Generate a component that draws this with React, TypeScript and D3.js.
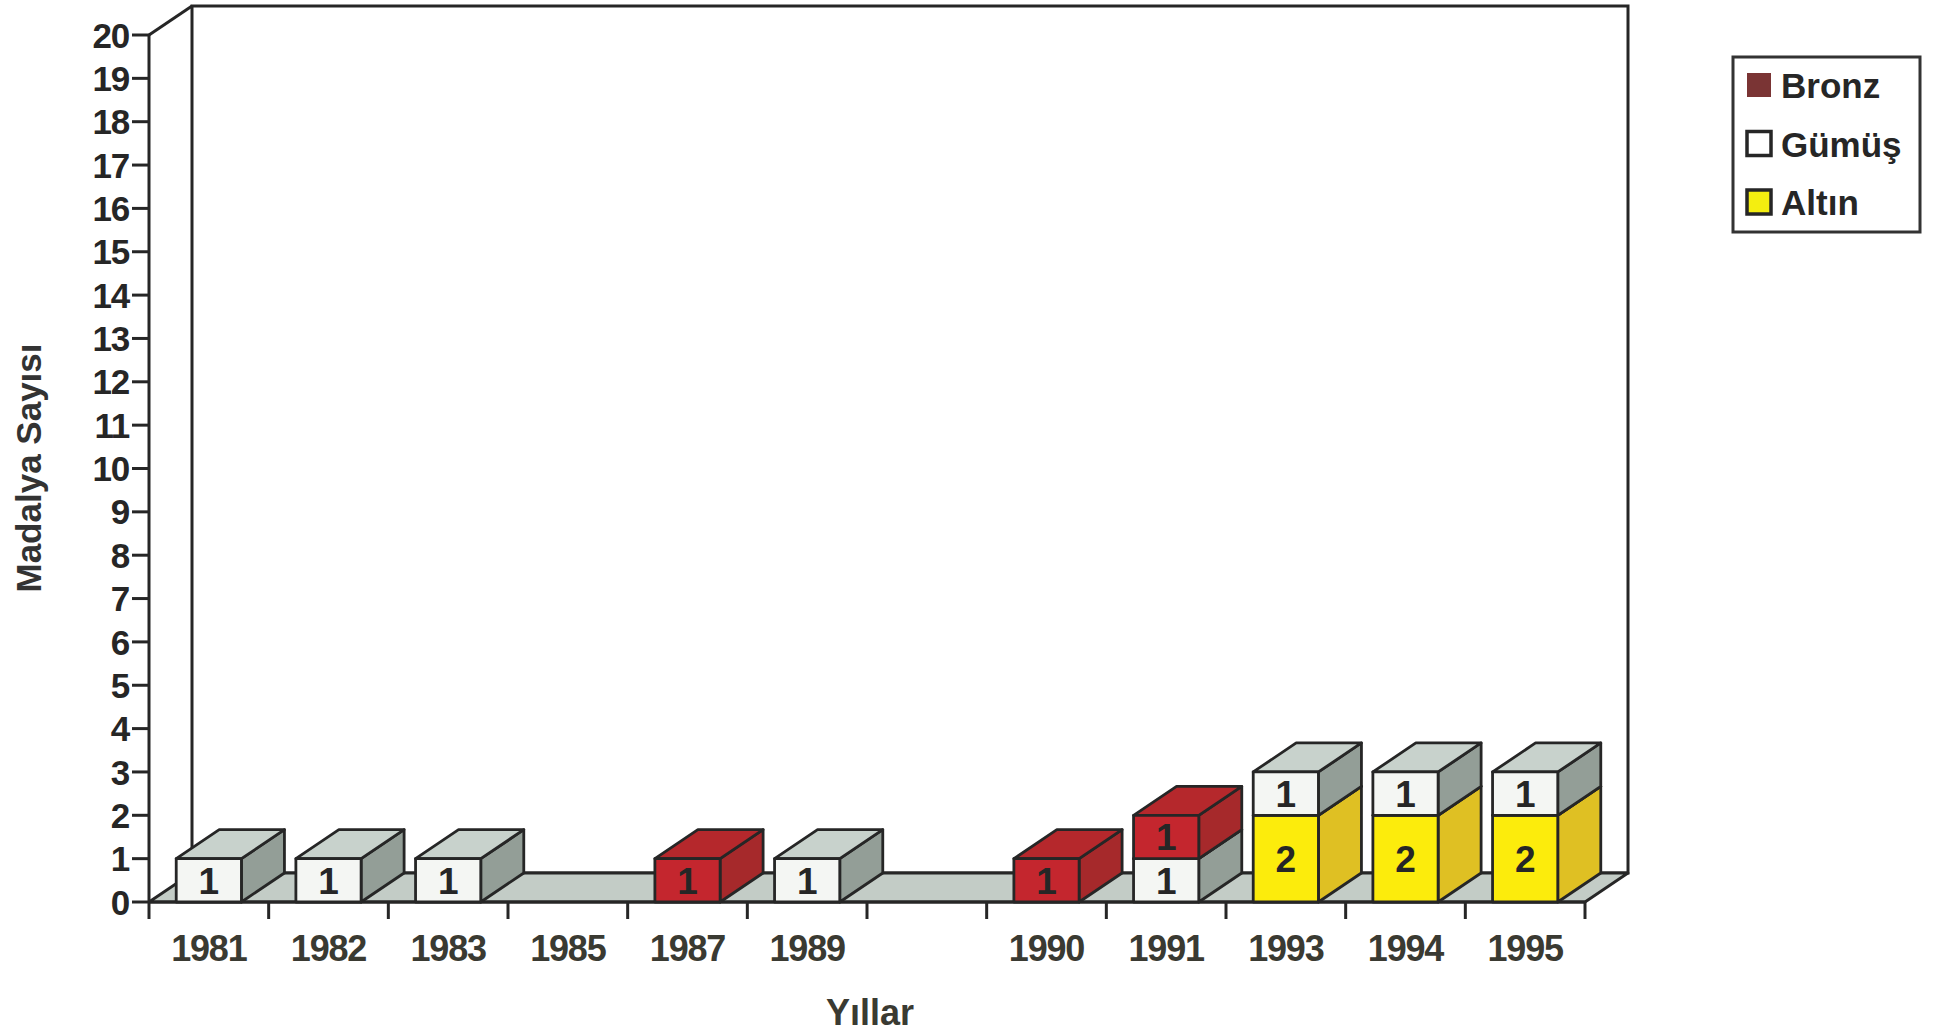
import React from "react";
import * as d3 from "d3";

const years = ["1981", "1982", "1983", "1985", "1987", "1989", "", "1990", "1991", "1993", "1994", "1995"];
const altin = [0, 0, 0, 0, 0, 0, 0, 0, 0, 2, 2, 2];
const gumus = [1, 1, 1, 0, 0, 1, 0, 0, 1, 1, 1, 1];
const bronz = [0, 0, 0, 0, 1, 0, 0, 1, 1, 0, 0, 0];
const yTicks = d3.range(0, 21);
const seriesKeys = ["altin", "gumus", "bronz"];
const legendItems = [
  { key: "bronz", label: "Bronz" },
  { key: "gumus", label: "Gümüş" },
  { key: "altin", label: "Altın" },
];

const W = 1935;
const H = 1033;
const X0 = 149;
const X1 = 1585;
const Y0 = 902;
const YTOP = 35;
const DX = 43;
const DY = -29;
const FONT = "'Liberation Sans', Arial, Helvetica, sans-serif";
const INK = "#262626";

const faces: Record<string, { front: string; top: string; side: string; legend: string }> = {
  altin: { front: "#fcec0c", top: "#eed62a", side: "#dfc023", legend: "#f4ee10" },
  gumus: { front: "#f4f6f3", top: "#c8d2cc", side: "#939e97", legend: "#ffffff" },
  bronz: { front: "#c4262e", top: "#b5282c", side: "#a6292b", legend: "#7a3434" },
};

export default function App() {
  const x = d3.scaleBand<string>().domain(years).range([X0, X1]).paddingInner(0).paddingOuter(0);
  const y = d3.scaleLinear().domain([0, 20]).range([Y0, YTOP]);
  const bw = x.bandwidth();
  const barW = bw * 0.545;

  const table = years.map((yr, i) => ({ yr, altin: altin[i], gumus: gumus[i], bronz: bronz[i] }));
  const stack = d3.stack<any>().keys(seriesKeys)(table);

  const poly = (pts: number[][]) => pts.map((p) => p.join(",")).join(" ");

  const bars: React.ReactNode[] = [];
  years.forEach((yr, i) => {
    const cx = (x(yr) as number) + bw / 2;
    const xl = cx - barW / 2;
    const xr = cx + barW / 2;
    stack.forEach((s) => {
      const [v0, v1] = s[i];
      if (v1 - v0 <= 0) return;
      const yb = y(v0);
      const yt = y(v1);
      const f = faces[s.key];
      bars.push(
        <g key={`${yr}-${s.key}`} stroke={INK} strokeWidth={2.8} strokeLinejoin="round">
          <polygon points={poly([[xr, yb], [xr + DX, yb + DY], [xr + DX, yt + DY], [xr, yt]])} fill={f.side} />
          <polygon points={poly([[xl, yt], [xr, yt], [xr + DX, yt + DY], [xl + DX, yt + DY]])} fill={f.top} />
          <rect x={xl} y={yt} width={barW} height={yb - yt} fill={f.front} />
          <text
            x={cx}
            y={(yb + yt) / 2}
            dy="0.36em"
            textAnchor="middle"
            fontFamily={FONT}
            fontWeight="bold"
            fontSize={37}
            fill={INK}
            stroke="none"
          >
            {v1 - v0}
          </text>
        </g>
      );
    });
  });

  return (
    <svg
      width={W}
      height={H}
      viewBox={`0 0 ${W} ${H}`}
      style={{ position: "absolute", left: 0, top: 0, background: "#ffffff" }}
    >
      <rect x={0} y={0} width={W} height={H} fill="#ffffff" />
      {/* back wall */}
      <rect x={X0 + DX} y={YTOP + DY} width={X1 - X0} height={Y0 - YTOP} fill="#ffffff" stroke={INK} strokeWidth={3} />
      {/* left wall edge */}
      <line x1={X0} y1={YTOP} x2={X0 + DX} y2={YTOP + DY} stroke={INK} strokeWidth={3} />
      {/* floor */}
      <polygon
        points={poly([[X0, Y0], [X1, Y0], [X1 + DX, Y0 + DY], [X0 + DX, Y0 + DY]])}
        fill="#c3ccc6"
        stroke={INK}
        strokeWidth={2.8}
        strokeLinejoin="round"
      />
      {/* y axis */}
      <line x1={X0} y1={YTOP} x2={X0} y2={Y0} stroke={INK} strokeWidth={3} />
      {yTicks.map((t) => (
        <g key={t}>
          <line x1={X0 - 17} x2={X0} y1={y(t)} y2={y(t)} stroke={INK} strokeWidth={3} />
          <text
            x={X0 - 20}
            y={y(t)}
            dy="0.36em"
            textAnchor="end"
            fontFamily={FONT}
            fontWeight="bold"
            fontSize={35}
            letterSpacing={-1.2}
            fill={INK}
          >
            {t}
          </text>
        </g>
      ))}
      {/* x axis */}
      <line x1={X0} y1={Y0} x2={X1} y2={Y0} stroke={INK} strokeWidth={3} />
      {d3.range(years.length + 1).map((k) => {
        const tx = X0 + k * bw;
        return <line key={k} x1={tx} x2={tx} y1={Y0} y2={Y0 + 17} stroke={INK} strokeWidth={3} />;
      })}
      {years.map((yr) => (
        <text
          key={yr || "blank"}
          x={(x(yr) as number) + bw / 2}
          y={961}
          textAnchor="middle"
          fontFamily={FONT}
          fontWeight="bold"
          fontSize={36}
          letterSpacing={-1.2}
          fill="#3a3a32"
        >
          {yr}
        </text>
      ))}
      {bars}
      {/* axis titles */}
      <text x={870} y={1025} textAnchor="middle" fontFamily={FONT} fontWeight="bold" fontSize={36} fill="#3a3a32">
        Yıllar
      </text>
      <text
        transform={`translate(41,468) rotate(-90)`}
        textAnchor="middle"
        fontFamily={FONT}
        fontWeight="bold"
        fontSize={35}
        fill="#333333"
      >
        Madalya Sayısı
      </text>
      {/* legend */}
      <rect x={1733} y={57} width={187} height={175} fill="#ffffff" stroke="#333" strokeWidth={3} />
      {legendItems.map((it, i) => {
        const ly = 98 + i * 58.5;
        return (
          <g key={it.key}>
            <rect
              x={1747}
              y={ly - 25}
              width={24}
              height={24}
              fill={faces[it.key].legend}
              stroke={it.key === "bronz" ? "none" : INK}
              strokeWidth={3.5}
            />
            <text x={1781} y={ly} fontFamily={FONT} fontWeight="bold" fontSize={35} fill={INK}>
              {it.label}
            </text>
          </g>
        );
      })}
    </svg>
  );
}
